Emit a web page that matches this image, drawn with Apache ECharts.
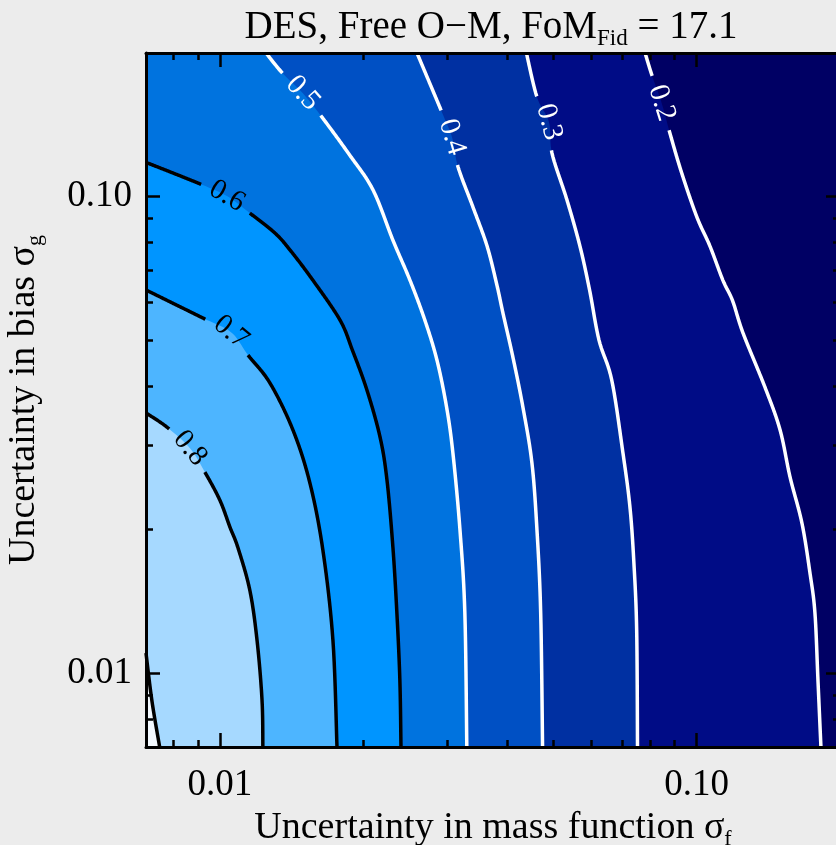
<!DOCTYPE html>
<html>
<head>
<meta charset="utf-8">
<script src="https://cdn.jsdelivr.net/npm/echarts@6/dist/echarts.min.js"></script>
<style>
  html, body { margin: 0; padding: 0; background: #ececec; }
  #chart { width: 836px; height: 845px; }
</style>
</head>
<body>
<div id="chart"></div>
<script>
// Axis ranges: sigma_f (horizontal) and sigma_g (vertical), both logarithmic
const X_RANGE = [0.007, 0.2];
const Y_RANGE = [0.007, 0.2];
const MAJOR_TICKS = [0.01, 0.1];
const MINOR_TICKS = [0.008, 0.009, 0.02, 0.03, 0.04, 0.05, 0.06, 0.07, 0.08, 0.09];

// Contour levels of FoM / FoM_Fid and their iso-lines as [sigma_f, sigma_g] pairs
const LEVELS = [0.2, 0.3, 0.4, 0.5, 0.6, 0.7, 0.8, 0.9];
const LEVEL_LABELS = ['0.2', '0.3', '0.4', '0.5', '0.6', '0.7', '0.8', ''];

const contour02 = [[0.0780, 0.2], [0.0806, 0.1798], [0.0845, 0.1571], [0.0880, 0.1355], [0.0931, 0.1120],
  [0.1002, 0.0905], [0.1067, 0.0787], [0.1136, 0.0667], [0.1190, 0.0605], [0.1252, 0.0517], [0.1392, 0.0398],
  [0.1497, 0.0324], [0.1571, 0.0258], [0.1664, 0.02065], [0.1730, 0.01622], [0.1772, 0.01337],
  [0.1798, 0.00967], [0.1824, 0.007]];
const contour03 = [[0.04397, 0.2], [0.04627, 0.1616], [0.04903, 0.1433], [0.04975, 0.1233], [0.05349, 0.0983],
  [0.05694, 0.0787], [0.05966, 0.06365], [0.06243, 0.0500], [0.0664, 0.04119], [0.0701, 0.02895],
  [0.0725, 0.02232], [0.0739, 0.01703], [0.0749, 0.01231], [0.0752, 0.007]];
const contour04 = [[0.02592, 0.2], [0.02922, 0.1504], [0.03069, 0.1332], [0.03159, 0.1155], [0.03396, 0.09504],
  [0.03636, 0.0787], [0.03813, 0.06518], [0.03926, 0.05694], [0.04119, 0.04603], [0.04323, 0.03616],
  [0.04516, 0.02759], [0.04627, 0.01997], [0.04711, 0.01337], [0.04754, 0.007]];
const contour05 = [[0.0125, 0.2], [0.01353, 0.1815], [0.01492, 0.1648], [0.01637, 0.1468], [0.01872, 0.1222],
  [0.02096, 0.1032], [0.02307, 0.0810], [0.02506, 0.0667], [0.02692, 0.05504], [0.02854, 0.04538],
  [0.0299, 0.03616], [0.03083, 0.02895], [0.0319, 0.01997], [0.03266, 0.01337], [0.03297, 0.007]];
const contour06 = [[0.007, 0.1179], [0.0090, 0.1067], [0.01035, 0.1002], [0.01156, 0.09227], [0.01302, 0.0840],
  [0.01404, 0.0772], [0.01568, 0.0667], [0.01787, 0.05504], [0.01898, 0.04754], [0.02035, 0.03926],
  [0.02168, 0.03129], [0.02242, 0.02542], [0.02307, 0.01839], [0.02352, 0.01337], [0.02386, 0.00967],
  [0.02399, 0.007]];
const contour07 = [[0.007, 0.06365], [0.009215, 0.05559], [0.010554, 0.05193], [0.011456, 0.04649],
  [0.01274, 0.04061], [0.01423, 0.0324], [0.01545, 0.02506], [0.01645, 0.01812], [0.01727, 0.01171],
  [0.01761, 0.007]];
const contour08 = [[0.007, 0.03514], [0.007746, 0.03282], [0.008657, 0.02963], [0.009301, 0.02642],
  [0.01, 0.02307], [0.0105, 0.02025], [0.01092, 0.0183], [0.01156, 0.01492], [0.01197, 0.01171],
  [0.01226, 0.008784], [0.01231, 0.007]];
const contour09 = [[0.007, 0.01102], [0.007204, 0.008742], [0.007478, 0.007]];

const CONTOURS = [contour02, contour03, contour04, contour05, contour06, contour07, contour08, contour09];
// index of the vertex where each level's label sits
const LABEL_AT = [2, 2, 2, 2, 2, 2, 2, -1];

// Fill colours: below the lowest level, then above each level
const BELOW_COLOR = '#000064';
const FILL_COLORS = ['#000c86', '#0030a2', '#0050c4', '#0073df', '#0095ff', '#4db5ff', '#a6d9ff', '#f3f9ff'];
const LINE_COLORS = ['#ffffff', '#ffffff', '#ffffff', '#ffffff', '#000000', '#000000', '#000000', '#000000'];

const SERIF = "'Times New Roman', 'Liberation Serif', 'DejaVu Serif', serif";

const chart = echarts.init(document.getElementById('chart'), null, { renderer: 'canvas' });

function fmtTick(v) { return Number(v).toFixed(2); }

function xAxisCfg(position, values, length, withLine, withLabels) {
  return {
    type: 'log', logBase: 10, position: position,
    min: X_RANGE[0], max: X_RANGE[1], z: 10,
    axisLine: { show: withLine, lineStyle: { color: '#000', width: 3 } },
    axisTick: { show: true, inside: true, length: length, customValues: values,
      lineStyle: { color: '#000', width: 2.5 } },
    axisLabel: withLabels ? { show: true, customValues: values, formatter: fmtTick, margin: 20,
      color: '#000', fontFamily: SERIF, fontSize: 37 } : { show: false },
    splitLine: { show: false }, minorTick: { show: false }
  };
}
function yAxisCfg(position, values, length, withLine, withLabels) {
  return {
    type: 'log', logBase: 10, position: position,
    min: Y_RANGE[0], max: Y_RANGE[1], z: 10,
    axisLine: { show: withLine, lineStyle: { color: '#000', width: 3 } },
    axisTick: { show: true, inside: true, length: length, customValues: values,
      lineStyle: { color: '#000', width: 2.5 } },
    axisLabel: withLabels ? { show: true, customValues: values, formatter: fmtTick, margin: 14,
      color: '#000', fontFamily: SERIF, fontSize: 37 } : { show: false },
    splitLine: { show: false }, minorTick: { show: false }
  };
}

const nameRich = {
  t: { fontFamily: SERIF, fontSize: 38, lineHeight: 44, color: '#000' },
  s: { fontFamily: SERIF, fontSize: 22, lineHeight: 22, verticalAlign: 'bottom', color: '#000' }
};

const xAxes = [
  xAxisCfg('bottom', MAJOR_TICKS, 14, true, true),
  xAxisCfg('bottom', MINOR_TICKS, 7, false, false),
  xAxisCfg('top', MAJOR_TICKS, 14, true, false),
  xAxisCfg('top', MINOR_TICKS, 7, false, false)
];
xAxes[0].name = '{t|Uncertainty in mass function σ}{s|f}';
xAxes[0].nameLocation = 'middle';
xAxes[0].nameGap = 56;
xAxes[0].nameTextStyle = { color: '#000', fontFamily: SERIF, rich: nameRich };

const yAxes = [
  yAxisCfg('left', MAJOR_TICKS, 14, true, true),
  yAxisCfg('left', MINOR_TICKS, 7, false, false),
  yAxisCfg('right', MAJOR_TICKS, 14, true, false),
  yAxisCfg('right', MINOR_TICKS, 7, false, false)
];
yAxes[0].name = '{t|Uncertainty in bias σ}{s|g}';
yAxes[0].nameLocation = 'middle';
yAxes[0].nameRotate = 90;
yAxes[0].nameGap = 100;
yAxes[0].nameTextStyle = { color: '#000', fontFamily: SERIF, rich: nameRich };

// Catmull-Rom resampling of a pixel polyline so the iso-lines read as smooth curves
function smoothPix(pix, steps) {
  if (pix.length < 3) return pix;
  const out = [];
  for (let i = 0; i < pix.length - 1; i++) {
    const p0 = pix[i - 1] || pix[i], p1 = pix[i], p2 = pix[i + 1], p3 = pix[i + 2] || pix[i + 1];
    for (let s = 0; s < steps; s++) {
      const t = s / steps, t2 = t * t, t3 = t2 * t;
      const f = k => 0.5 * (2 * p1[k] + (-p0[k] + p2[k]) * t +
        (2 * p0[k] - 5 * p1[k] + 4 * p2[k] - p3[k]) * t2 +
        (-p0[k] + 3 * p1[k] - 3 * p2[k] + p3[k]) * t3);
      out.push([f(0), f(1)]);
    }
  }
  out.push(pix[pix.length - 1]);
  return out;
}

// Filled bands: region above each level lies towards the lower-left corner
function renderFill(params, api) {
  const pts = CONTOURS[params.dataIndex];
  const poly = smoothPix(pts.map(p => api.coord(p)), 10);
  if (pts[0][1] >= Y_RANGE[1]) {
    poly.push(api.coord([X_RANGE[0], Y_RANGE[0]]));
    poly.push(api.coord([X_RANGE[0], Y_RANGE[1]]));
  } else {
    poly.push(api.coord([X_RANGE[0], Y_RANGE[0]]));
  }
  return {
    type: 'polygon',
    shape: { points: poly },
    style: { fill: FILL_COLORS[params.dataIndex], stroke: null }
  };
}

// Split a pixel polyline, leaving a gap around the label centre
function cutGap(pix, c, r) {
  const out = [];
  let cur = [];
  const push = p => {
    if (c && Math.hypot(p[0] - c[0], p[1] - c[1]) <= r) {
      if (cur.length > 1) out.push(cur);
      cur = [];
    } else cur.push(p);
  };
  for (let i = 0; i < pix.length - 1; i++) {
    const a = pix[i], b = pix[i + 1];
    const n = Math.max(1, Math.ceil(Math.hypot(b[0] - a[0], b[1] - a[1])));
    for (let k = 0; k < n; k++) {
      const t = k / n;
      push([a[0] + (b[0] - a[0]) * t, a[1] + (b[1] - a[1]) * t]);
    }
  }
  push(pix[pix.length - 1]);
  if (cur.length > 1) out.push(cur);
  return out;
}

function renderLine(params, api) {
  const i = params.dataIndex;
  const pix = CONTOURS[i].map(p => api.coord(p));
  const li = LABEL_AT[i];
  const children = [];
  let centre = null;
  if (li >= 0) {
    centre = pix[li];
    const a = pix[li - 1], b = pix[li + 1];
    const ang = Math.atan2(b[1] - a[1], b[0] - a[0]);
    children.push({
      type: 'text', x: centre[0], y: centre[1], rotation: -ang, z2: 5,
      style: {
        text: LEVEL_LABELS[i], fill: LINE_COLORS[i], align: 'center', verticalAlign: 'middle',
        fontFamily: SERIF, fontSize: 29
      }
    });
  }
  cutGap(smoothPix(pix, 10), centre, 28).forEach(seg => {
    children.push({
      type: 'polyline', shape: { points: seg },
      style: { stroke: LINE_COLORS[i], lineWidth: 3.5, fill: null, lineJoin: 'round' }
    });
  });
  return { type: 'group', children: children };
}

const seriesData = CONTOURS.map(c => c[0].slice());

chart.setOption({
  backgroundColor: '#ececec',
  animation: false,
  grid: {
    left: 146, top: 53, width: 694, height: 694, outerBoundsMode: 'none', containLabel: false,
    show: true, backgroundColor: BELOW_COLOR, borderWidth: 0
  },
  xAxis: xAxes,
  yAxis: yAxes,
  graphic: [{
    type: 'text', x: 491, y: 28, z: 20,
    style: {
      text: '{t|DES, Free O−M, FoM}{s|Fid}{t| = 17.1}',
      align: 'center', verticalAlign: 'middle', fill: '#000',
      rich: {
        t: { fontFamily: SERIF, fontSize: 39, lineHeight: 44, fill: '#000' },
        s: { fontFamily: SERIF, fontSize: 23, lineHeight: 22, verticalAlign: 'bottom', fill: '#000' }
      }
    }
  }],
  series: [
    { type: 'custom', coordinateSystem: 'cartesian2d', xAxisIndex: 0, yAxisIndex: 0, z: 2,
      silent: true, data: seriesData, renderItem: renderFill },
    { type: 'custom', coordinateSystem: 'cartesian2d', xAxisIndex: 0, yAxisIndex: 0, z: 3,
      silent: true, data: seriesData, renderItem: renderLine }
  ]
});
</script>
</body>
</html>
